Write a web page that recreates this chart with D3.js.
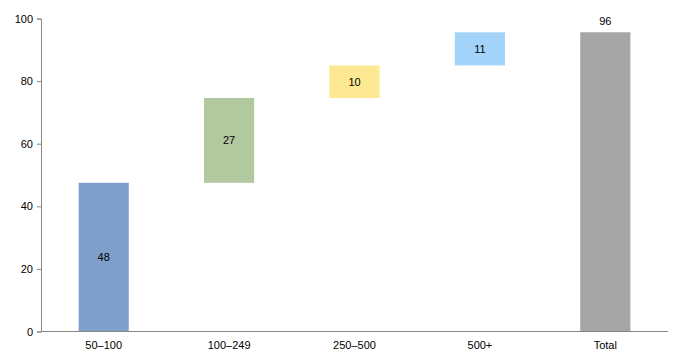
<!DOCTYPE html>
<html>
<head>
<meta charset="utf-8">
<script src="https://cdn.jsdelivr.net/npm/d3@7"></script>
<style>
  body { margin: 0; background: #fff; }
  text { font-family: "Liberation Sans", Arial, sans-serif; }
</style>
</head>
<body>
<div id="chart"></div>
<script>
const categories = ["50–100", "100–249", "250–500", "500+", "Total"];
const steps = [47.5, 27.1, 10.4, 10.6];
const colors = ["#819fcb", "#b2c9a0", "#fde994", "#a4d3f9", "#a6a6a6"];
const yTicks = [0, 20, 40, 60, 80, 100];

const width = 673, height = 354;
const margin = { top: 18.5, right: 5, bottom: 22.5, left: 41 };

// build the waterfall segments
let run = 0;
const segs = steps.map((v, i) => {
    const s = { cat: categories[i], start: run, end: run + v, value: v, color: colors[i] };
    run += v;
    return s;
});
segs.push({ cat: "Total", start: 0, end: run, value: run, color: colors[4], total: true });

const svg = d3.select("#chart").append("svg")
    .attr("width", width)
    .attr("height", height);

const x = d3.scaleBand()
    .domain(categories)
    .range([margin.left, width - margin.right])
    .paddingInner(0.6)
    .paddingOuter(0.3);

const y = d3.scaleLinear()
    .domain([0, 100])
    .range([height - margin.bottom, margin.top]);

// bars
svg.selectAll("rect.bar")
    .data(segs)
    .enter().append("rect")
    .attr("class", "bar")
    .attr("x", d => x(d.cat))
    .attr("width", x.bandwidth())
    .attr("y", d => y(d.end))
    .attr("height", d => y(d.start) - y(d.end))
    .attr("fill", d => d.color);

// value labels
svg.selectAll("text.val")
    .data(segs)
    .enter().append("text")
    .attr("class", "val")
    .attr("x", d => x(d.cat) + x.bandwidth() / 2)
    .attr("y", d => d.total ? y(d.end) - 7 : (y(d.start) + y(d.end)) / 2 + 4)
    .attr("text-anchor", "middle")
    .attr("font-size", "11px")
    .attr("fill", "#000")
    .text(d => Math.round(d.value));

// y axis
const yAxis = svg.append("g")
    .attr("transform", `translate(${margin.left},0)`)
    .call(d3.axisLeft(y).tickValues(yTicks).tickSize(4).tickPadding(4));
yAxis.select(".domain").attr("stroke", "#868686");
yAxis.selectAll(".tick line").attr("stroke", "#868686");
yAxis.selectAll(".tick text")
    .attr("font-size", "11px")
    .attr("fill", "#000")
    .attr("font-family", "Liberation Sans, Arial, sans-serif");

// x axis
const xAxis = svg.append("g")
    .attr("transform", `translate(0,${height - margin.bottom})`)
    .call(d3.axisBottom(x).tickSize(0).tickPadding(10).tickSizeOuter(0));
xAxis.select(".domain")
    .attr("d", `M${margin.left},0H${width - margin.right}`)
    .attr("stroke", "#868686");
xAxis.selectAll(".tick text")
    .attr("font-size", "11px")
    .attr("fill", "#000")
    .attr("font-family", "Liberation Sans, Arial, sans-serif");
</script>
</body>
</html>
